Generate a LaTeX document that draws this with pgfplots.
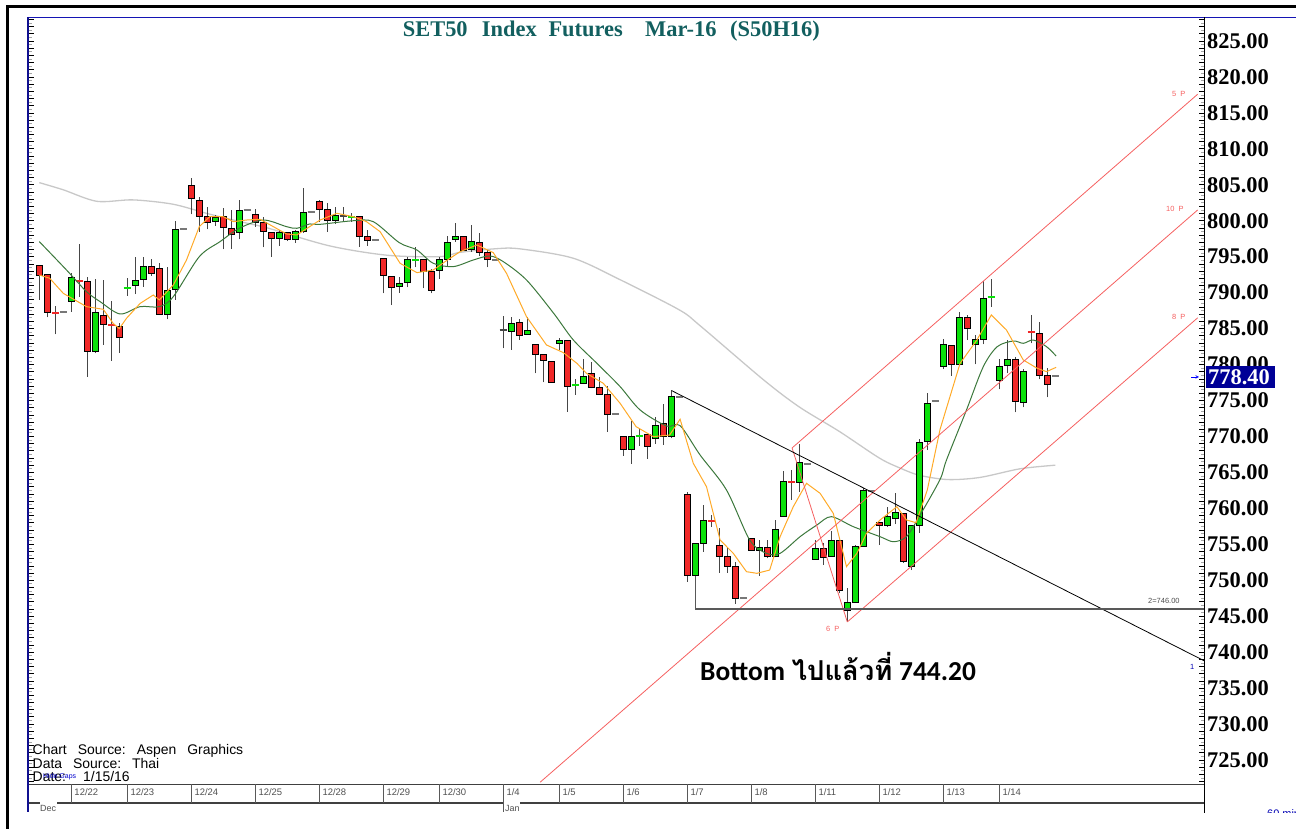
\documentclass[border=0pt]{standalone}
\usepackage{pgfplots}
\pgfplotsset{compat=1.18}
\usepackage{pgfplotstable}
\usepackage{fontspec}
\setmainfont{Liberation Serif}
\newfontfamily\arial{Liberation Sans}
\newfontfamily\carl{Carlito}
\newfontfamily\thaifont[Script=Thai]{Loma}

\definecolor{cred}{RGB}{240,40,40}
\definecolor{cgreen}{RGB}{10,225,10}
\definecolor{cdark}{RGB}{70,70,70}
\definecolor{cgray}{RGB}{120,120,120}
\definecolor{maorange}{RGB}{255,170,40}
\definecolor{magreen}{RGB}{60,120,60}
\definecolor{magray}{RGB}{200,200,200}
\definecolor{chred}{RGB}{245,95,95}
\definecolor{teal1}{RGB}{18,95,95}
\definecolor{navyb}{RGB}{0,0,150}
\definecolor{frameblue}{RGB}{20,20,180}
\definecolor{datec}{RGB}{80,80,80}

\pgfplotstableread{
i o h l c t
0 793.85 793.9 789.0 792.45 -1
1 792.55 792.6 786.57 787.26 -1
2 787.17 788.15 784.2 787.17 -1
3 787.35 787.35 787.35 787.35 0
4 788.84 792.69 787.35 792.13 1
5 791.67 796.77 789.44 791.67 -1
6 791.53 792.13 778.32 781.79 -1
7 781.79 791.85 781.56 787.22 1
8 786.89 791.76 782.72 785.6 -1
9 785.46 788.84 780.54 785.46 -1
10 785.27 785.73 781.65 783.79 -1
11 790.69 792.0 789.54 790.69 1
12 791.06 794.91 789.81 791.76 1
13 791.9 794.91 790.83 793.61 1
14 793.71 794.63 792.32 792.69 -1
15 793.38 794.17 786.89 786.98 -1
16 786.98 793.61 786.29 790.37 1
17 790.51 800.01 788.98 798.85 1
18 798.85 798.85 798.85 798.85 0
19 804.97 805.9 800.9 803.12 -1
20 802.84 803.26 798.48 800.66 -1
21 800.57 801.96 798.81 799.78 -1
22 799.87 800.8 799.27 800.48 1
23 800.57 801.73 796.03 799.09 -1
24 798.95 801.5 796.1 798.16 -1
25 798.39 802.89 797.42 801.5 1
26 801.5 801.5 801.5 801.5 0
27 800.9 801.59 799.18 799.73 -1
28 799.83 800.48 796.3 798.53 -1
29 798.34 798.34 795.0 797.51 -1
30 797.51 798.71 796.49 798.34 1
31 798.34 798.34 797.18 797.42 -1
32 797.42 798.71 796.95 798.48 1
33 798.48 804.51 798.34 801.17 1
34 801.17 801.17 801.17 801.17 0
35 802.7 802.89 799.87 801.59 -1
36 801.59 802.42 798.48 800.11 -1
37 800.01 801.87 799.55 800.71 1
38 800.71 801.87 799.87 800.71 2
39 800.48 801.13 799.87 800.48 1
40 800.57 800.57 796.4 797.88 -1
41 797.88 798.71 796.49 797.23 -1
42 797.37 797.37 797.37 797.37 0
43 794.82 794.82 789.91 792.36 -1
44 792.32 792.32 788.28 790.74 -1
45 790.83 792.13 790.0 791.3 1
46 791.44 794.91 790.74 794.64 1
47 794.54 796.4 793.52 794.54 1
48 794.68 794.68 790.6 792.92 -1
49 793.01 793.24 789.91 790.37 -1
50 793.15 794.91 791.9 794.68 1
51 794.64 797.88 793.62 796.95 1
52 797.42 799.64 797.09 797.79 1
53 797.88 797.88 795.93 795.93 -1
54 796.07 799.41 795.7 797.09 1
55 796.95 798.34 795.1 795.61 -1
56 795.56 795.93 793.52 794.64 -1
57 794.54 794.54 794.54 794.54 0
58 784.81 786.8 782.26 784.81 2
59 784.57 786.66 782.03 785.73 1
60 785.83 786.29 783.42 784.07 -1
61 784.21 786.66 784.11 784.81 1
62 782.86 782.86 778.78 781.47 -1
63 781.47 781.47 777.53 780.54 -1
64 780.5 780.5 777.53 777.53 -1
65 782.95 783.65 782.03 783.32 1
66 783.32 783.42 773.45 776.93 -1
67 777.2 777.95 775.77 777.2 1
68 777.39 780.77 777.3 778.32 1
69 778.78 780.4 776.69 776.83 -1
70 776.83 778.22 775.77 775.81 -1
71 775.81 777.02 770.67 773.08 -1
72 773.08 773.08 773.08 773.08 0
73 769.97 769.97 767.28 768.21 -1
74 768.21 772.2 766.17 769.97 1
75 770.11 771.13 768.67 770.11 1
76 770.3 770.3 766.91 768.58 -1
77 769.74 772.75 768.95 771.59 1
78 771.83 774.51 768.81 769.97 -1
79 770.06 776.46 769.74 775.53 1
80 775.53 775.53 775.53 775.53 0
81 761.95 762.32 749.8 750.73 -1
82 750.64 755.13 750.03 755.13 1
83 755.13 760.46 753.97 758.38 1
84 758.24 759.07 757.45 758.24 -1
85 754.9 757.22 751.05 753.28 -1
86 753.28 754.67 751.05 751.89 -1
87 751.89 752.58 746.7 747.48 -1
88 747.48 747.48 747.48 747.48 0
89 755.78 755.78 754.11 754.21 -1
90 754.21 755.6 750.59 754.53 1
91 754.53 755.6 753.05 753.28 -1
92 753.28 758.38 753.19 757.13 1
93 758.94 765.24 758.84 763.8 1
94 763.71 765.33 761.16 763.71 -1
95 763.62 768.95 762.32 766.45 1
96 766.17 766.17 766.17 766.17 0
97 752.95 755.6 752.95 754.44 1
98 754.44 755.23 752.12 753.19 -1
99 753.37 756.9 753.28 755.5 1
100 755.5 755.5 748.18 748.64 -1
101 745.86 748.87 744.2 746.88 1
102 746.88 754.9 746.88 754.76 1
103 754.67 762.78 754.67 762.46 1
104 762.46 762.46 762.46 762.46 0
105 758.05 758.05 754.9 757.59 -1
106 757.68 760.23 757.45 758.84 1
107 758.61 762.09 757.82 759.4 1
108 759.31 759.31 752.44 752.58 -1
109 751.98 757.59 751.42 757.59 1
110 757.68 769.6 756.62 769.13 1
111 769.27 776.09 768.11 774.6 1
112 774.98 774.98 774.98 774.98 0
113 779.8 783.55 779.33 782.81 1
114 782.67 782.67 778.41 780.03 -1
115 780.03 787.35 779.8 786.57 1
116 786.57 786.89 783.41 785.04 -1
117 782.81 784.11 780.03 783.55 1
118 783.55 791.67 782.81 789.21 1
119 789.44 791.85 788.05 789.44 1
120 777.85 780.72 776.55 779.8 1
121 779.94 783.41 778.78 780.77 1
122 780.77 781.0 773.35 774.84 -1
123 774.7 779.33 774.05 779.01 1
124 784.57 786.89 782.95 784.57 -1
125 784.34 785.87 777.94 778.55 -1
126 778.55 779.48 775.44 777.29 -1
127 778.4 778.4 778.4 778.4 0
}\candles

\begin{document}
\begin{tikzpicture}[x=1bp,y=1bp]
\begin{axis}[
  at={(29bp,45bp)}, anchor=south west,
  scale only axis, width=1175bp, height=766bp,
  xmin=-1.2875, xmax=145.59, ymin=721.66, ymax=828.2,
  axis line style={draw=none},
  xtick=\empty,
  ytick={725,730,...,825},
  minor ytick={722,...,828},
  ytick pos=both, yticklabel pos=right,
  tick align=inside,
  major tick length=5bp, minor tick length=5bp,
  tick style={black, line width=0.7bp},
  scaled y ticks=false,
  yticklabel style={font=\fontsize{22.5}{22.5}\selectfont\bfseries, anchor=west, inner sep=0pt, xshift=3bp,
    /pgf/number format/.cd, fixed, fixed zerofill, precision=2, assume math mode=true},
  extra y ticks={722.5,723.5,...,827.5},
  extra y tick labels={},
  extra y tick style={major tick length=3bp, tick style={gray!70, line width=0.7bp}},
  clip=true,
]
% long moving average
\addplot[magray, line width=1.3bp, smooth] coordinates {(0,805.3) (3,804.3) (7.2,802.7) (11.7,802.9) (16.7,802.3) (21,801.0) (25,799.9) (28.5,799.0) (36.3,796.5) (43.5,795.2) (50,795.0) (52.6,795.6) (57,796.1) (60,796.1) (66.7,794.8) (72.6,791.8) (80,787.6) (82.6,785.4) (90.5,777.9) (95,774.1) (100,770.7) (105,767.0) (107.6,765.6) (110,764.6) (113.6,764.0) (117.6,764.3) (122.6,765.5) (127,766.0)};
% candles
\pgfplotsinvokeforeach{0,...,127}{%
  \pgfplotstablegetelem{#1}{o}\of\candles\edef\co{\pgfplotsretval}%
  \pgfplotstablegetelem{#1}{h}\of\candles\edef\ch{\pgfplotsretval}%
  \pgfplotstablegetelem{#1}{l}\of\candles\edef\cl{\pgfplotsretval}%
  \pgfplotstablegetelem{#1}{c}\of\candles\edef\cc{\pgfplotsretval}%
  \pgfplotstablegetelem{#1}{t}\of\candles\edef\ct{\pgfplotsretval}%
  \pgfplotstablegetelem{#1}{i}\of\candles\edef\ci{\pgfplotsretval}%
  \pgfmathsetmacro\xa{\ci-0.4}\pgfmathsetmacro\xb{\ci+0.4}%
  \pgfmathsetmacro\xc{\ci-0.45}\pgfmathsetmacro\xd{\ci+0.45}%
  \ifnum\ct=1 \def\cf{cgreen}\else\ifnum\ct=-1 \def\cf{cred}\else\def\cf{cdark}\fi\fi
  \ifnum\ct=0
    \edef\tmp{\noexpand\draw[cgray, line width=1.8bp] (axis cs:\xc,\cc) -- (axis cs:\xd,\cc);}\tmp
  \else
    \edef\tmp{\noexpand\draw[cdark, line width=1.3bp] (axis cs:\ci,\cl) -- (axis cs:\ci,\ch);}\tmp
    \ifdim\co pt=\cc pt
      \edef\tmp{\noexpand\draw[\cf, line width=2bp] (axis cs:\xc,\cc) -- (axis cs:\xd,\cc);}\tmp
    \else
      \edef\tmp{\noexpand\filldraw[fill=\cf, draw=black, line width=0.8bp] (axis cs:\xa,\co) rectangle (axis cs:\xb,\cc);}\tmp
    \fi
  \fi
}
% medium moving average
\addplot[magreen, line width=1bp, smooth] coordinates {(0,797.1) (3.4,793.15) (5.9,790.14) (7.6,788.75) (10.1,787.03) (12.6,788.05) (15,788.05) (16.75,789.44) (20,795.0) (22.6,797.1) (25,798.95) (28,800.1) (30.9,799.18) (32.2,798.95) (33.8,799.55) (35.1,799.5) (39.25,800.0) (41.75,799.87) (45,796.95) (47.2,795.93) (49.25,794.08) (51.75,793.62) (54.25,794.54) (56.3,795.1) (58,794.31) (60.9,791.76) (64.3,787.12) (66.75,783.42) (69.7,780.17) (72.6,776.93) (75.1,773.68) (78.4,771.45) (80.1,771.5) (82.6,767.42) (85.9,762.55) (88.8,755.6) (90.9,753.74) (92.6,753.74) (95.1,756.06) (97.2,757.68) (99,758.84) (101.75,757.45) (105.1,756.06) (106.75,755.36) (108.4,756.06) (110.1,759.07) (112.6,764.03) (113.4,766.72) (115.9,773.68) (118,779.7) (119.75,782.49) (121.75,783.27) (123,782.95) (124.25,783.41) (125.9,782.49) (127.1,781.19)};
% short moving average
\addplot[maorange, line width=1bp] coordinates {(0,792.45) (1.3,792.0) (3,789.9) (5.9,788.05) (8,787.68) (9.25,785.7) (10,785.0) (10.9,786.43) (12.6,788.5) (14.25,789.67) (15,788.98) (16.75,791.06) (18.4,794.54) (20,799.18) (21.3,800.57) (23,800.57) (24.25,799.87) (25.9,800.1) (27.6,800.2) (29.25,799.18) (30.9,798.16) (32.2,798.02) (33.8,799.18) (35.1,800.1) (37.2,801.03) (39.25,800.57) (40.9,799.87) (42.6,798.48) (45.1,794.08) (47.2,792.78) (49.25,793.15) (50.9,794.45) (52.6,795.7) (54.7,796.63) (56.75,795.56) (58.4,792.69) (60.9,786.66) (63.4,782.72) (65.5,781.66) (67.2,780.17) (68.4,778.78) (70.5,777.39) (72.6,774.61) (74.6,771.36) (76.75,769.97) (78.8,770.2) (80.1,772.4) (81.75,766.26) (83.4,763.01) (85.1,755.6) (86.75,753.74) (88.4,751.19) (89.7,750.96) (91.3,751.42) (92.6,756.06) (94.25,760.23) (95.9,763.48) (97.6,762.09) (99.25,759.3) (100.9,751.89) (102.2,753.74) (103.4,756.52) (105.1,758.38) (107.2,760.23) (108.4,758.38) (109.6,758.0) (111,762.55) (112.6,771.0) (115.1,780.17) (117.2,783.41) (119,786.89) (120.9,784.8) (123,780.63) (124.75,779.47) (125.9,779.01) (127.1,779.61)};
% channel lines
\addplot[chred, line width=0.8bp] coordinates {(94.1,768.4) (144.8,817.6)};
\addplot[chred, line width=0.8bp] coordinates {(62.6,721.9) (144.8,801.5)};
\addplot[chred, line width=0.8bp] coordinates {(101,744.2) (144.8,786.5)};
\addplot[chred, line width=0.8bp] coordinates {(94.1,768.4) (101,744.2)};
% trend line and support
\addplot[black, line width=0.8bp] coordinates {(79.05,776.37) (145.6,738.8)};
\addplot[black!65, line width=1.1bp] coordinates {(82,750.64) (82,746.0) (145.6,746.0)};
\end{axis}
\pgfresetboundingbox
\path[use as bounding box] (0,0) rectangle (1296,829);

\begin{scope}[shift={(0,829)}, yscale=-1]
% outer frames
\draw[black, line width=3bp] (7.5,829) -- (7.5,6.5) -- (1296,6.5);
\draw[frameblue, line width=1.2bp] (27,17.5) -- (1296,17.5);
\draw[frameblue!80!black, line width=2.2bp] (28,17) -- (28,812);
\draw[black, line width=1.2bp] (1204.5,17) -- (1204.5,813);
% date band
\draw[black!75, line width=1.1bp] (29,784.5) -- (1204,784.5);
\draw[black!75, line width=1.1bp] (29,803) -- (40,803) (57,803) -- (503,803) (520,803) -- (1204,803);
\foreach \xx in {71.3,127.3,191.3,255.3,319.3,383.3,439.3,559.3,623.3,687.3,751.3,815.3,879.3,943.3,999.3}
  \draw[black!65, line width=1.3bp] (\xx,784.5) -- (\xx,803);
\draw[black!65, line width=1.3bp] (503.3,784.5) -- (503.3,812);
\foreach \xx/\lab in {71.3/{12/22},127.3/{12/23},191.3/{12/24},255.3/{12/25},319.3/{12/28},383.3/{12/29},439.3/{12/30},503.3/{1/4},559.3/{1/5},623.3/{1/6},687.3/{1/7},751.3/{1/8},815.3/{1/11},879.3/{1/12},943.3/{1/13},999.3/{1/14}}
  \node[anchor=base west, inner sep=0, text=datec, font=\arial\fontsize{9.5}{9.5}\selectfont] at (\xx+3,795.5) {\lab};
\node[anchor=base west, inner sep=0, text=datec, font=\arial\fontsize{9}{9}\selectfont] at (40,812) {Dec};
\node[anchor=base west, inner sep=0, text=datec, font=\arial\fontsize{9}{9}\selectfont] at (505,812) {Jan};
% title
\foreach \xx/\w in {402.7/SET50,481.7/Index,548.3/Futures,645/Mar-16,730/(S50H16)}
  \node[anchor=base west, inner sep=0, text=teal1, font=\fontsize{22.5}{22.5}\selectfont\bfseries] at (\xx,36.7) {\w};
% source text
\node[anchor=base west, inner sep=0, font=\arial\fontsize{14}{14}\selectfont] at (32.5,755) {Chart\hspace{11bp}Source:\hspace{11bp}Aspen\hspace{11bp}Graphics};
\node[anchor=base west, inner sep=0, font=\arial\fontsize{14}{14}\selectfont] at (32.5,768.3) {Data\hspace{11bp}Source:\hspace{11bp}Thai};
\node[anchor=base west, inner sep=0, font=\arial\fontsize{14}{14}\selectfont] at (32.5,781.7) {Date:};
\node[anchor=base west, inner sep=0, font=\arial\fontsize{14}{14}\selectfont] at (83,781.7) {1/15/16};
\node[anchor=base west, inner sep=0, text=blue!80!black, font=\arial\fontsize{7}{7}\selectfont] at (43,779) {Hide Gaps};
% annotation text
\node[anchor=base west, inner sep=0, font=\fontsize{27.5}{27.5}\selectfont\bfseries] at (700,681) {{\carl Bottom} {\thaifont ไปแล้วที่} {\carl 744.20}};
\foreach \xx/\yy/\lab in {1172/97/{5\hspace{4bp}P},1166/212/{10\hspace{4bp}P},1172/320/{8\hspace{4bp}P},826/632/{6\hspace{4bp}P}}
  \node[anchor=base west, inner sep=0, text=chred, font=\arial\fontsize{7.5}{7.5}\selectfont] at (\xx,\yy) {\lab};
\node[anchor=base west, inner sep=0, text=black!70, font=\arial\fontsize{7.5}{7.5}\selectfont] at (1148,604) {2=746.00};
\node[anchor=base west, inner sep=0, text=blue!70!black, font=\arial\fontsize{7.5}{7.5}\selectfont] at (1190,670) {1};
% last price box
\fill[navyb] (1206,366) rectangle (1275,388);
\node[anchor=west, inner sep=0, text=white, font=\fontsize{22.5}{22.5}\selectfont\bfseries] at (1208,377.5) {778.40};
\draw[-stealth, blue, line width=0.6bp] (1191,377) -- (1199,377);
% bottom right
\node[anchor=base west, inner sep=0, text=blue!70!black, font=\arial\fontsize{11}{11}\selectfont] at (1267,818) {60 min};
\fill[white] (1205,813.5) rectangle (1296,829);
\end{scope}
\end{tikzpicture}
\end{document}
